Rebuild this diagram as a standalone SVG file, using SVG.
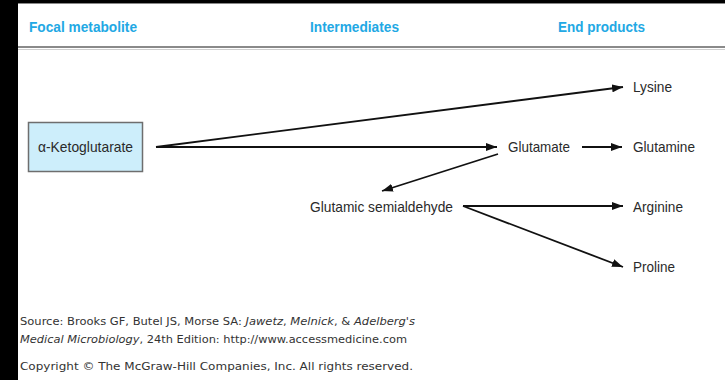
<svg xmlns="http://www.w3.org/2000/svg" width="725" height="380" viewBox="0 0 725 380">
  <style>
    .hdr { font-family: "Liberation Sans", Arial, sans-serif; font-weight: bold; font-size: 15px; fill: #22a8e4; }
    .lbl { font-family: "Liberation Sans", Arial, sans-serif; font-size: 15px; fill: #2a2a2a; }
    .src { font-family: "DejaVu Sans", Verdana, sans-serif; font-size: 11px; fill: #333; }
    .it { font-style: italic; }
    .edge { stroke: #111; stroke-width: 1.8; fill: none; marker-end: url(#arrow); }
  </style>
  <defs>
    <marker id="arrow" markerUnits="userSpaceOnUse" markerWidth="12" markerHeight="8" refX="11" refY="4" orient="auto">
      <path d="M0,0 L11,4 L0,8 z" fill="#111"/>
    </marker>
  </defs>

  <!-- frame -->
  <rect x="0" y="0" width="725" height="380" fill="#000"/>
  <rect x="18" y="3" width="707" height="377" fill="#fff"/>
  <line x1="18" y1="3.5" x2="725" y2="3.5" stroke="#888" stroke-width="1"/>

  <!-- column headers -->
  <g id="headers">
    <text class="hdr" x="29" y="32" textLength="108" lengthAdjust="spacingAndGlyphs">Focal metabolite</text>
    <text class="hdr" x="310" y="32" textLength="89" lengthAdjust="spacingAndGlyphs">Intermediates</text>
    <text class="hdr" x="558" y="32" textLength="87" lengthAdjust="spacingAndGlyphs">End products</text>
    <line x1="18" y1="47" x2="725" y2="47" stroke="#8a8a8a" stroke-width="2"/>
    <line x1="18" y1="49.5" x2="725" y2="49.5" stroke="#cfcfcf" stroke-width="1"/>
  </g>

  <!-- connectors -->
  <g id="connectors">
    <line class="edge" x1="156" y1="147" x2="623" y2="87"/>
    <line class="edge" x1="156" y1="147" x2="497" y2="147"/>
    <line class="edge" x1="582" y1="147" x2="622" y2="147"/>
    <line class="edge" x1="498" y1="154" x2="382" y2="191"/>
    <line class="edge" x1="463" y1="206" x2="623" y2="206"/>
    <line class="edge" x1="463" y1="206" x2="623" y2="267"/>
  </g>

  <!-- nodes -->
  <g id="akg">
    <rect x="28.5" y="122.5" width="114" height="49" fill="#cdeefb" stroke="#6e6e6e" stroke-width="1.5"/>
    <text class="lbl" x="38" y="152" textLength="95" lengthAdjust="spacingAndGlyphs">α-Ketoglutarate</text>
  </g>
  <g id="glutamate">
    <text class="lbl" x="508" y="152" textLength="62" lengthAdjust="spacingAndGlyphs">Glutamate</text>
  </g>
  <g id="semialdehyde">
    <text class="lbl" x="310" y="212" textLength="143" lengthAdjust="spacingAndGlyphs">Glutamic semialdehyde</text>
  </g>
  <g id="lysine">
    <text class="lbl" x="633" y="92" textLength="39" lengthAdjust="spacingAndGlyphs">Lysine</text>
  </g>
  <g id="glutamine">
    <text class="lbl" x="633" y="152" textLength="62" lengthAdjust="spacingAndGlyphs">Glutamine</text>
  </g>
  <g id="arginine">
    <text class="lbl" x="633" y="212" textLength="50" lengthAdjust="spacingAndGlyphs">Arginine</text>
  </g>
  <g id="proline">
    <text class="lbl" x="633" y="272" textLength="42" lengthAdjust="spacingAndGlyphs">Proline</text>
  </g>

  <!-- source credit -->
  <g id="credit">
    <text class="src" x="20" y="325" textLength="395" lengthAdjust="spacingAndGlyphs">Source: Brooks GF, Butel JS, Morse SA: <tspan class="it">Jawetz</tspan>, <tspan class="it">Melnick</tspan>, &amp; <tspan class="it">Adelberg's</tspan></text>
    <text class="src" x="20" y="343" textLength="387" lengthAdjust="spacingAndGlyphs"><tspan class="it">Medical Microbiology</tspan>, 24th Edition: http://www.accessmedicine.com</text>
    <text class="src" x="20" y="370" textLength="393" lengthAdjust="spacingAndGlyphs">Copyright © The McGraw-Hill Companies, Inc. All rights reserved.</text>
  </g>
</svg>
